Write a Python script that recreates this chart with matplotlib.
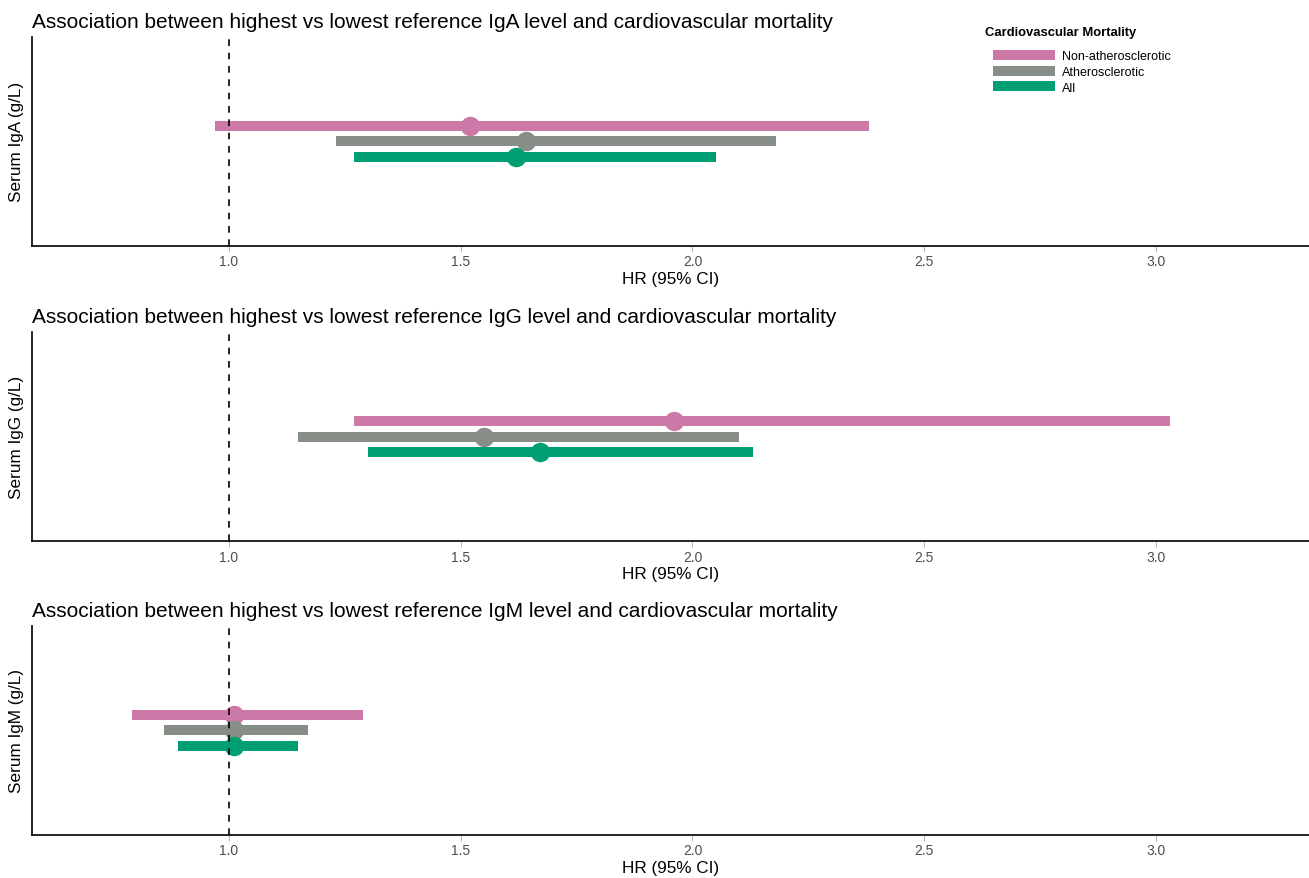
import matplotlib
matplotlib.use("Agg")
import matplotlib.pyplot as plt
from matplotlib.lines import Line2D

plt.rcParams['font.family'] = ['Liberation Sans', 'DejaVu Sans']

groups = ['Non-atherosclerotic', 'Atherosclerotic', 'All']
colors = ['#CC79A7', '#868E87', '#009E73']
offsets = [0.075, 0.0, -0.075]

markers = ['IgA', 'IgG', 'IgM']
hr = {
    'IgA': [1.52, 1.64, 1.62],
    'IgG': [1.96, 1.55, 1.67],
    'IgM': [1.01, 1.01, 1.01],
}
lo = {
    'IgA': [0.97, 1.23, 1.27],
    'IgG': [1.27, 1.15, 1.30],
    'IgM': [0.79, 0.86, 0.89],
}
hi = {
    'IgA': [2.38, 2.18, 2.05],
    'IgG': [3.03, 2.10, 2.13],
    'IgM': [1.29, 1.17, 1.15],
}
xticks = [1.0, 1.5, 2.0, 2.5, 3.0]

fig = plt.figure(figsize=(13.09, 8.79), dpi=100)
bottoms = [0.719, 0.383, 0.049]
height = 0.238

for i, m in enumerate(markers):
    ax = fig.add_axes([0.0244, bottoms[i], 0.9756, height])
    for j, g in enumerate(groups):
        y = 1 + offsets[j]
        ax.plot([lo[m][j], hi[m][j]], [y, y], color=colors[j], lw=7.2,
                solid_capstyle='butt', zorder=2)
        ax.plot(hr[m][j], y, 'o', color=colors[j], markersize=13, zorder=3)
    ax.axvline(1.0, color='black', ls=(0, (4, 4)), lw=1.2, zorder=4)
    ax.set_xlim(0.575, 3.33)
    ax.set_ylim(0.5, 1.5)
    ax.set_yticks([])
    ax.set_xticks(xticks)
    ax.set_xticklabels([f'{t:.1f}' for t in xticks])
    ax.tick_params(axis='x', colors='#BBBBBB', labelcolor='#4D4D4D',
                   labelsize=10, length=4, width=0.8, pad=2)
    for s in ['top', 'right']:
        ax.spines[s].set_visible(False)
    for s in ['left', 'bottom']:
        ax.spines[s].set_linewidth(1.2)
    ax.set_xlabel('HR (95% CI)', fontsize=12.3, labelpad=2)
    ax.set_ylabel(f'Serum {m} (g/L)', fontsize=12.3, labelpad=6)
    ax.set_title(f'Association between highest vs lowest reference {m} level and cardiovascular mortality',
                 loc='left', fontsize=15, pad=7, x=-0.0)
    if i == 0:
        handles = [Line2D([0], [0], color=c, lw=7.2, solid_capstyle='butt') for c in colors]
        ax.legend(handles, groups, loc='upper left', bbox_to_anchor=(0.7523, 0.936),
                  frameon=False, fontsize=9, handlelength=5.0,
                  labelspacing=0.3, handletextpad=0.55, borderpad=0, borderaxespad=0)
        fig.text(985 / 1309, 1 - 33 / 879, 'Cardiovascular Mortality', fontsize=9.4,
                 fontweight='bold', ha='left', va='center')

fig.savefig('out.png', dpi=100)
